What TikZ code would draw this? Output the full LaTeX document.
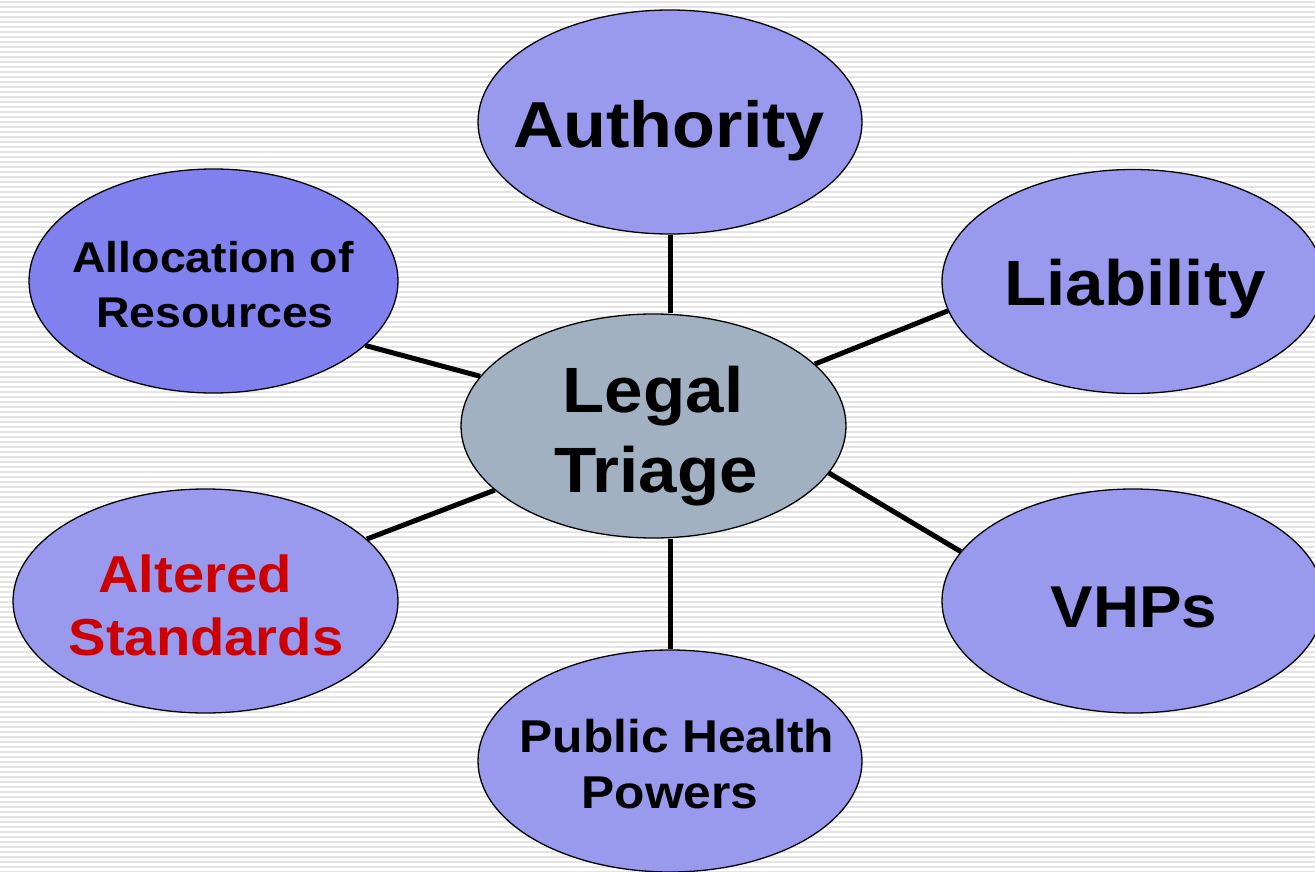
\documentclass[tikz,border=0pt]{standalone}
\usepackage{fontspec}
\setmainfont{Liberation Sans}
\newfontfamily\bubfont{Liberation Sans}[FakeStretch=1.08]
\usetikzlibrary{shapes.geometric}
\definecolor{peri}{RGB}{153,153,238}
\definecolor{peridark}{RGB}{128,128,238}
\definecolor{triagecol}{RGB}{161,177,193}
\definecolor{redtxt}{RGB}{204,0,0}
\definecolor{stripecol}{RGB}{228,228,228}
\newcommand{\fs}[1]{\bubfont\bfseries\fontsize{#1}{#1}\selectfont}
\begin{document}
\begin{tikzpicture}[x=1pt,y=-1pt,
  bubble/.style={ellipse, draw=black, line width=1.3pt, fill=peri, inner sep=0pt},
  txt/.style={anchor=base, inner sep=0pt, text=black},
  link/.style={line width=5pt, black},
  stripe/.style={stripecol, line width=2pt}]
\useasboundingbox (0,0) rectangle (1315,872);
\fill[white] (0,0) rectangle (1315,872);
\foreach \y in {2,7,...,872} \draw[stripe] (0,\y) -- (1315,\y);

% ellipses
\node[bubble, minimum width=384pt, minimum height=224pt] (auth) at (670,122) {};
\node[bubble, fill=peridark, minimum width=369pt, minimum height=224pt] (alloc) at (213.5,281) {};
\node[bubble, minimum width=382pt, minimum height=224pt] (liab) at (1133,281.5) {};
\node[bubble, fill=triagecol, minimum width=385pt, minimum height=224pt] (tri) at (653.5,426) {};
\node[bubble, minimum width=385pt, minimum height=224pt] (alt) at (205.5,601) {};
\node[bubble, minimum width=382pt, minimum height=224pt] (vhp) at (1133,601) {};
\node[bubble, minimum width=384pt, minimum height=222pt] (php) at (670,761) {};

% texts
\node[txt, font=\fs{65}] (authT) at (669,148) {Authority};
\node[txt, font=\fs{43}] (allocT1) at (213,272) {Allocation of};
\node[txt, font=\fs{43}] (allocT2) at (215,327) {Resources};
\node[txt, font=\fs{64}] (liabT) at (1135,305) {Liability};
\node[txt, font=\fs{64}] (triT1) at (653,412) {Legal};
\node[txt, font=\fs{64}] (triT2) at (656,492) {Triage};
\node[txt, font=\fs{52}, text=redtxt] (altT1) at (195,592) {Altered};
\node[txt, font=\fs{52}, text=redtxt] (altT2) at (206,655) {Standards};
\node[txt, font=\fs{59}] (vhpT) at (1134,627) {VHPs};
\node[txt, font=\fs{46}] (phpT1) at (677,752) {Public Health};
\node[txt, font=\fs{46}] (phpT2) at (670,808) {Powers};

% connectors
\draw[link] (auth.south) -- (auth.south |- tri.north);
\draw[link] (alloc.-23) -- (tri.164.7);
\draw[link] (liab.189.4) -- (tri.21.9);
\draw[link] (alt.21.4) -- (tri.-158.1);
\draw[link] (vhp.164.7) -- (tri.-15.5);
\draw[link] (php.north |- tri.south) -- (php.north);
\end{tikzpicture}
\end{document}
